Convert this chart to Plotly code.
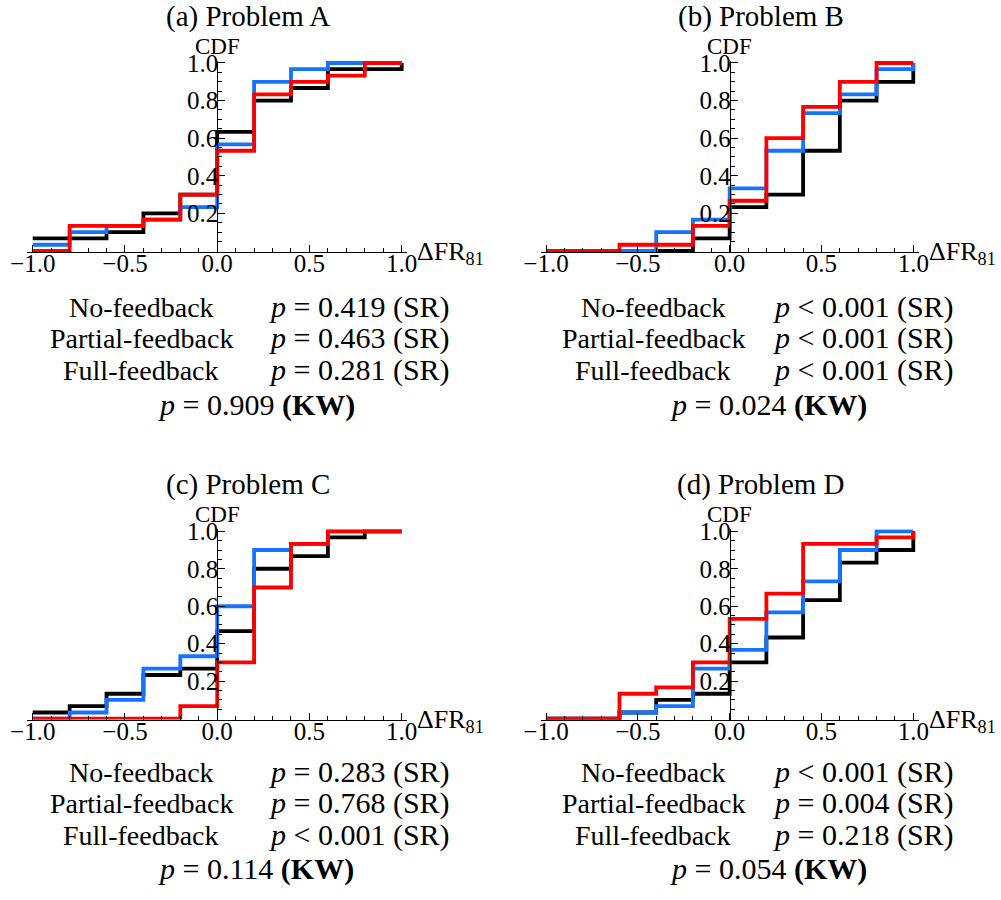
import plotly.graph_objects as go

# ---------------- data ----------------
x_vals = [-1.0, -0.8, -0.6, -0.4, -0.2, 0.0, 0.2, 0.4, 0.6, 0.8, 1.0]

a_no = [0.067, 0.067, 0.1, 0.2, 0.3, 0.633, 0.8, 0.867, 0.967, 0.967, 1.0]
a_partial = [0.033, 0.1, 0.133, 0.167, 0.233, 0.567, 0.9, 0.967, 1.0, 1.0, 1.0]
a_full = [0.0, 0.133, 0.133, 0.167, 0.3, 0.533, 0.833, 0.9, 0.933, 1.0, 1.0]

b_no = [0.0, 0.0, 0.0, 0.0, 0.067, 0.233, 0.3, 0.533, 0.8, 0.9, 1.0]
b_partial = [0.0, 0.0, 0.0, 0.1, 0.167, 0.333, 0.533, 0.733, 0.833, 0.967, 1.0]
b_full = [0.0, 0.0, 0.033, 0.033, 0.133, 0.267, 0.6, 0.767, 0.9, 1.0, 1.0]

c_no = [0.033, 0.067, 0.133, 0.233, 0.267, 0.467, 0.8, 0.867, 0.967, 1.0, 1.0]
c_partial = [0.0, 0.033, 0.1, 0.267, 0.333, 0.6, 0.9, 0.933, 1.0, 1.0, 1.0]
c_full = [0.0, 0.0, 0.0, 0.0, 0.067, 0.3, 0.7, 0.933, 1.0, 1.0, 1.0]

d_no = [0.0, 0.0, 0.033, 0.1, 0.133, 0.3, 0.433, 0.633, 0.833, 0.9, 1.0]
d_partial = [0.0, 0.0, 0.033, 0.067, 0.267, 0.367, 0.567, 0.733, 0.9, 1.0, 1.0]
d_full = [0.0, 0.0, 0.133, 0.167, 0.3, 0.533, 0.667, 0.933, 0.933, 0.967, 1.0]

panel_titles = ["(a) Problem A", "(b) Problem B", "(c) Problem C", "(d) Problem D"]
group_labels = ["No-feedback", "Partial-feedback", "Full-feedback"]
sr_tests = [
    ["= 0.419", "= 0.463", "= 0.281"],
    ["&lt; 0.001", "&lt; 0.001", "&lt; 0.001"],
    ["= 0.283", "= 0.768", "&lt; 0.001"],
    ["&lt; 0.001", "= 0.004", "= 0.218"],
]
kw_tests = ["= 0.909", "= 0.024", "= 0.114", "= 0.054"]

y_ticks = [0.2, 0.4, 0.6, 0.8, 1.0]
y_ticktext = ["0.2", "0.4", "0.6", "0.8", "1.0"]

panels = [
    [a_no, a_partial, a_full],
    [b_no, b_partial, b_full],
    [c_no, c_partial, c_full],
    [d_no, d_partial, d_full],
]

# ---------------- style ----------------
W, H = 1001, 900
OFF = 0  # body margin removed by post_script
FONT = "Liberation Serif, Times New Roman, Tinos, DejaVu Serif, serif"
colors = ["#000000", "#1473ff", "#ff0000"]

xr = [-1.03, 1.03]
yr = [-0.005, 1.01]
# panel pixel boxes in page coordinates: (x_left, x_right, y_bottom, y_top)
panel_px = [
    (27.2, 407.2, 251.9, 61.1),
    (540.5, 918.8, 251.9, 61.1),
    (27.2, 407.2, 719.6, 529.4),
    (540.5, 918.8, 719.6, 529.4),
]
title_y = [16, 16, 484, 484]
table_pos = [  # label centre x, p-column left x, row ys, kw centre x, kw y
    (141, 267, (307, 338, 370), 256, 405),
    (653, 771, (307, 338, 370), 768, 405),
    (141, 267, (772, 803, 835), 256, 869),
    (653, 771, (772, 803, 835), 768, 869),
]


def px(x):
    return (x - OFF) / W


def py(y):
    return 1 - (y - OFF) / H


fig = go.Figure()
annotations = []

for i, series in enumerate(panels):
    n = i + 1
    xa = "x" if n == 1 else f"x{n}"
    ya = "y" if n == 1 else f"y{n}"
    for s, col in zip(series, colors):
        fig.add_trace(go.Scatter(
            x=x_vals, y=s, mode="lines", line=dict(shape="hv", color=col, width=3.8),
            xaxis=xa, yaxis=ya, showlegend=False, hoverinfo="skip"))

    xl, xrp, yb, yt = panel_px[i]
    xdom = [px(xl), px(xrp)]
    ydom = [py(yb), py(yt)]
    yaxis_pos = xdom[0] + (0 - xr[0]) / (xr[1] - xr[0]) * (xdom[1] - xdom[0])
    yaxis_px = xl + (0 - xr[0]) / (xr[1] - xr[0]) * (xrp - xl)

    xkey = "xaxis" if n == 1 else f"xaxis{n}"
    ykey = "yaxis" if n == 1 else f"yaxis{n}"
    fig.layout[xkey] = dict(
        domain=xdom, range=xr, anchor=ya, showgrid=False, zeroline=False,
        showline=True, linecolor="black", linewidth=1, automargin=False,
        ticks="inside", ticklen=7, tickwidth=1, tickcolor="black",
        tick0=0, dtick=0.5, tickformat=".1f",
        minor=dict(ticks="inside", ticklen=4, tickcolor="black", tick0=0, dtick=0.1),
        tickfont=dict(family=FONT, size=25, color="black"),
        ticklabelstandoff=-11,
    )
    fig.layout[ykey] = dict(
        domain=ydom, range=yr, anchor="free", position=yaxis_pos,
        showgrid=False, zeroline=False, automargin=False,
        showline=True, linecolor="black", linewidth=1,
        ticks="inside", ticklen=7, tickwidth=1, tickcolor="black",
        tickmode="array", tickvals=y_ticks, ticktext=y_ticktext,
        minor=dict(ticks="inside", ticklen=4, tickcolor="black",
                   tickmode="linear", tick0=0, dtick=0.05),
        tickfont=dict(family=FONT, size=25, color="black"),
        ticklabelstandoff=-6,
    )

    # panel title
    annotations.append(dict(text=panel_titles[i], x=px(yaxis_px + 31), y=py(title_y[i]),
                            xref="paper", yref="paper",
                            showarrow=False, xanchor="center", yanchor="middle",
                            font=dict(family=FONT, size=29, color="black")))
    # CDF label
    annotations.append(dict(text="CDF", x=yaxis_pos, y=py(yt - 15), xref="paper", yref="paper",
                            showarrow=False, xanchor="center", yanchor="middle",
                            font=dict(family=FONT, size=23, color="black")))
    # x-axis label
    annotations.append(dict(text="ΔFR<sub>81</sub>", x=px(xrp + 8), y=py(yb + 1),
                            xref="paper", yref="paper",
                            showarrow=False, xanchor="left", yanchor="middle",
                            font=dict(family=FONT, size=26, color="black")))
    # test table
    lc, pl, rys, kc, ky = table_pos[i]
    for r in range(3):
        annotations.append(dict(text=group_labels[r], x=px(lc), y=py(rys[r]),
                                xref="paper", yref="paper", showarrow=False,
                                xanchor="center", yanchor="middle",
                                font=dict(family=FONT, size=28, color="black")))
        annotations.append(dict(text=f"<i>p</i> {sr_tests[i][r]} (SR)", x=px(pl), y=py(rys[r]),
                                xref="paper", yref="paper", showarrow=False,
                                xanchor="left", yanchor="middle",
                                font=dict(family=FONT, size=30, color="black")))
    annotations.append(dict(text=f"<i>p</i> {kw_tests[i]} <b>(KW)</b>", x=px(kc), y=py(ky),
                            xref="paper", yref="paper", showarrow=False,
                            xanchor="center", yanchor="middle",
                            font=dict(family=FONT, size=30, color="black")))

fig.update_layout(
    width=W, height=H, margin=dict(l=0, r=0, t=0, b=0, pad=0, autoexpand=False),
    paper_bgcolor="white", plot_bgcolor="white",
    annotations=annotations, showlegend=False,
)

fig.write_html("out.html", config={"displayModeBar": False},
               post_script="document.body.style.margin='0px';")
